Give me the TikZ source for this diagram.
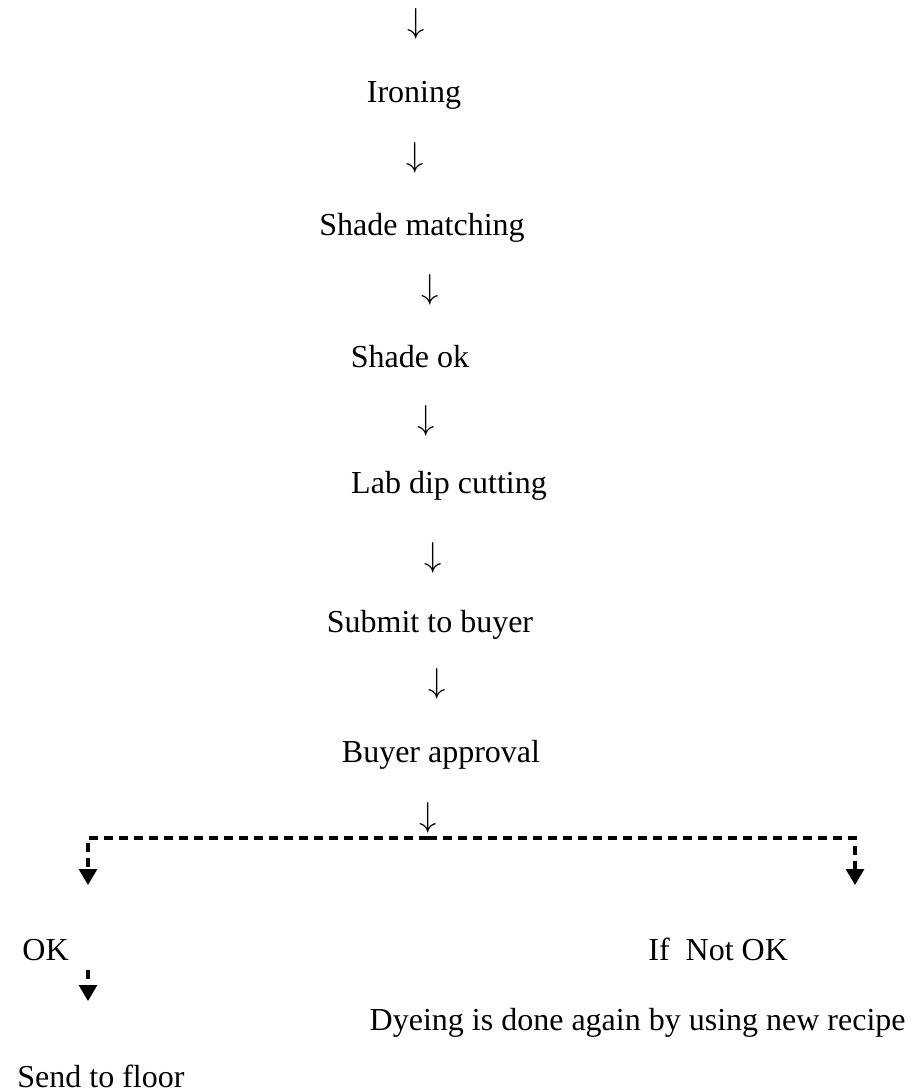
\documentclass[tikz,border=0pt]{standalone}
\usepackage{fontspec}
\setmainfont{Liberation Serif}
\usetikzlibrary{arrows.meta}
\definecolor{inkb}{HTML}{000000}
\tikzset{
  stage/.style={font=\fontsize{16}{19}\selectfont, color=inkb, inner sep=0pt, anchor=base},
  dnarr/.style={font=\fontsize{17.5}{20}\selectfont, color=inkb, inner sep=0pt},
  dl/.style={draw=inkb, line width=1.6pt, dash pattern=on 4.5pt off 3pt,
             -{Triangle[length=8pt,width=9pt]}},
}
\begin{document}
\begin{tikzpicture}[x=0.5pt,y=-0.5pt]
  \useasboundingbox (0,0) rectangle (915,1092);
  \node[dnarr] (a0) at (416,24) {$\downarrow$};
  \node[stage] (iron) at (414,102) {Ironing};
  \node[dnarr] (a1) at (415,158) {$\downarrow$};
  \node[stage] (match) at (422,235) {Shade matching};
  \node[dnarr] (a2) at (430,290) {$\downarrow$};
  \node[stage] (shok) at (410,367) {Shade ok};
  \node[dnarr] (a3) at (426,421) {$\downarrow$};
  \node[stage] (labdip) at (449,493) {Lab dip cutting};
  \node[dnarr] (a4) at (433,558) {$\downarrow$};
  \node[stage] (submit) at (430,632) {Submit to buyer};
  \node[dnarr] (a5) at (437,684) {$\downarrow$};
  \node[stage] (approve) at (441,762) {Buyer approval};
  \node[dnarr] (a6) at (428,818) {$\downarrow$};
  % split into the two outcomes
  \coordinate (split) at (428,838);
  \coordinate (okend) at (88,885);
  \coordinate (nokend) at (855,885);
  \draw[dl] (split) -| (okend);
  \draw[dl] (split) -| (nokend);
  \node[stage, anchor=base west] (ok) at (22,960) {OK};
  \node[stage, anchor=base west] (notok) at (648,960) {If\ \ Not OK};
  \coordinate (okgo) at (88,970);
  \coordinate (okto) at (88,1001);
  \draw[dl] (okgo) -- (okto);
  \node[stage, anchor=base east] (redye) at (906,1030) {Dyeing is done again by using new recipe};
  \node[stage, anchor=base west] (floor) at (17,1087) {Send to floor};
\end{tikzpicture}
\end{document}
